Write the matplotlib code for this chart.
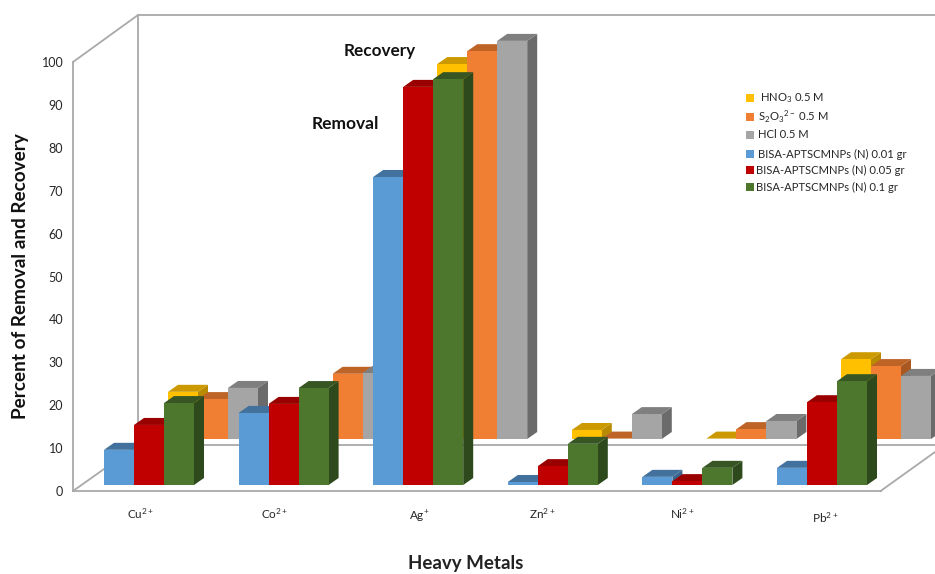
#!/usr/bin/env python3
"""Removal and recovery of heavy metals, drawn as an oblique 3D column chart."""

import matplotlib
matplotlib.use("Agg")
import matplotlib.pyplot as plt
from matplotlib.patches import Polygon

plt.rcParams['font.family'] = ['Lato', 'DejaVu Sans']
plt.rcParams['mathtext.default'] = 'regular'

metals = ['Cu$^{2+}$', 'Co$^{2+}$', 'Ag$^{+}$', 'Zn$^{2+}$', 'Ni$^{2+}$', 'Pb$^{2+}$']

# removal, front row
bisa_001 = [8.2, 16.8, 71.8, 0.7, 1.9, 4.0]
bisa_005 = [14.0, 18.9, 92.8, 4.4, 0.9, 19.3]
bisa_01 = [19.1, 22.6, 94.6, 9.6, 4.0, 24.2]

# recovery, back row
hno3 = [11.0, 9.0, 87.4, 2.1, 0.1, 18.6]
s2o3 = [9.3, 15.2, 90.4, 0.1, 2.3, 17.0]
hcl = [11.9, 15.4, 92.8, 5.8, 4.2, 14.7]

legend_labels = ['HNO$_3$ 0.5 M', 'S$_2$O$_3$$^{2-}$ 0.5 M', 'HCl 0.5 M',
                 'BISA-APTSCMNPs (N) 0.01 gr', 'BISA-APTSCMNPs (N) 0.05 gr',
                 'BISA-APTSCMNPs (N) 0.1 gr']

# front, top, side shades for each series
YELLOW = ('#FFC000', '#CC9A00', '#B88B00')
ORANGE = ('#F07F33', '#BE6427', '#A85820')
GRAY = ('#A5A5A5', '#7F7F7F', '#6B6B6B')
BLUE = ('#5B9BD5', '#41719C', '#3A6690')
RED = ('#C00000', '#990000', '#860000')
GREEN = ('#4C772D', '#375623', '#2E4A1C')

W, H = 935, 574
PX_X = 134.6  # pixels per category
PX_Y = 4.29   # pixels per percent
LEFT, BOTTOM = 73, 491

BAR_W = 30 / PX_X
DEPTH_X, DEPTH_Y = 10 / PX_X, 7 / PX_Y
START = 31 / PX_X
FRONT_BASE = 6 / PX_Y
BACK_SHIFT_X, BACK_BASE = 64 / PX_X, 52 / PX_Y
FLOOR_X, FLOOR_Y = 65 / PX_X, 46 / PX_Y
WALL = '#A9A9A9'
TEXT = '#262626'


def draw_bar(ax, x, base, value, shades, z):
    face, top, side = shades
    y = base + value
    ax.add_patch(Polygon([(x + BAR_W, base), (x + BAR_W + DEPTH_X, base + DEPTH_Y),
                          (x + BAR_W + DEPTH_X, y + DEPTH_Y), (x + BAR_W, y)],
                         fc=side, ec='none', clip_on=False, zorder=z))
    ax.add_patch(Polygon([(x, y), (x + BAR_W, y), (x + BAR_W + DEPTH_X, y + DEPTH_Y),
                          (x + DEPTH_X, y + DEPTH_Y)],
                         fc=top, ec='none', clip_on=False, zorder=z))
    ax.add_patch(Polygon([(x, base), (x + BAR_W, base), (x + BAR_W, y), (x, y)],
                         fc=face, ec='none', clip_on=False, zorder=z))


def draw_row(ax, series, shift, base, z):
    for i in range(len(metals)):
        for j, (values, shades) in enumerate(series):
            x = shift + START + i + j * BAR_W
            draw_bar(ax, x, base, values[i], shades, z)
            z += 1
    return z


fig = plt.figure(figsize=(W / 100, H / 100), dpi=100)
ax = fig.add_axes([LEFT / W, (H - BOTTOM) / H, 6 * PX_X / W, 100 * PX_Y / H])
ax.set_xlim(0, 6)
ax.set_ylim(0, 100)
ax.set_facecolor('none')

for name in ['top', 'right']:
    ax.spines[name].set_visible(False)
for name in ['left', 'bottom']:
    ax.spines[name].set_color(WALL)
    ax.spines[name].set_linewidth(1.3)

ax.set_xticks([])
ax.set_yticks(range(0, 101, 10))
ax.tick_params(axis='y', length=0, pad=7, labelsize=9, labelcolor=TEXT)

# walls and floor
right_edge = (W - LEFT) / PX_X
wall_style = dict(color=WALL, lw=1.3, clip_on=False, zorder=1)
ax.plot([0, FLOOR_X, right_edge], [100, 100 + 47 / PX_Y, 100 + 47 / PX_Y], **wall_style)
ax.plot([FLOOR_X, FLOOR_X], [100 + 47 / PX_Y, FLOOR_Y], **wall_style)
ax.plot([0, FLOOR_X, right_edge], [0, FLOOR_Y, FLOOR_Y], **wall_style)
ax.plot([6, right_edge], [0, 39 / PX_Y], **wall_style)

z = draw_row(ax, [(hno3, YELLOW), (s2o3, ORANGE), (hcl, GRAY)], BACK_SHIFT_X, BACK_BASE, 2)
draw_row(ax, [(bisa_001, BLUE), (bisa_005, RED), (bisa_01, GREEN)], 0, FRONT_BASE, z)


def fx(px):
    return px / W


def fy(py):
    return 1 - py / H


# category labels sit at slightly uneven heights
label_px = [141, 275, 419, 542, 682, 825]
label_py = [514, 514, 516, 514, 514, 518]
for name, px, py in zip(metals, label_px, label_py):
    fig.text(fx(px), fy(py), name, ha='center', va='center', fontsize=8.5, color=TEXT)

fig.text(fx(21), fy(276), 'Percent of Removal and Recovery', rotation=90, ha='center',
         va='center', fontsize=13.6, fontweight='bold', color='#111111')
fig.text(fx(466), fy(563), 'Heavy Metals', ha='center', va='center', fontsize=13.5,
         fontweight='bold', color='#222222')
fig.text(fx(380), fy(51), 'Recovery', ha='center', va='center', fontsize=12.3,
         fontweight='bold', color='#111111', zorder=50)
fig.text(fx(345), fy(124), 'Removal', ha='center', va='center', fontsize=12.5,
         fontweight='bold', color='#111111', zorder=50)

# legend swatches and text, spaced by hand
swatch_colors = [YELLOW[0], ORANGE[0], GRAY[0], BLUE[0], RED[0], GREEN[0]]
swatch_py = [98, 117, 135, 154, 170, 187]
text_px = [760, 758, 758, 758, 756, 756]
for color, label, py, tx in zip(swatch_colors, legend_labels, swatch_py, text_px):
    fig.patches.append(plt.Rectangle((fx(746), fy(py + 4)), 8 / W, 8 / H, fc=color, ec='none',
                                     transform=fig.transFigure, figure=fig))
    fig.text(fx(tx), fy(py), label, ha='left', va='center', fontsize=8.1, color=TEXT)

fig.savefig('out.png', dpi=100, facecolor='white')
plt.close(fig)
